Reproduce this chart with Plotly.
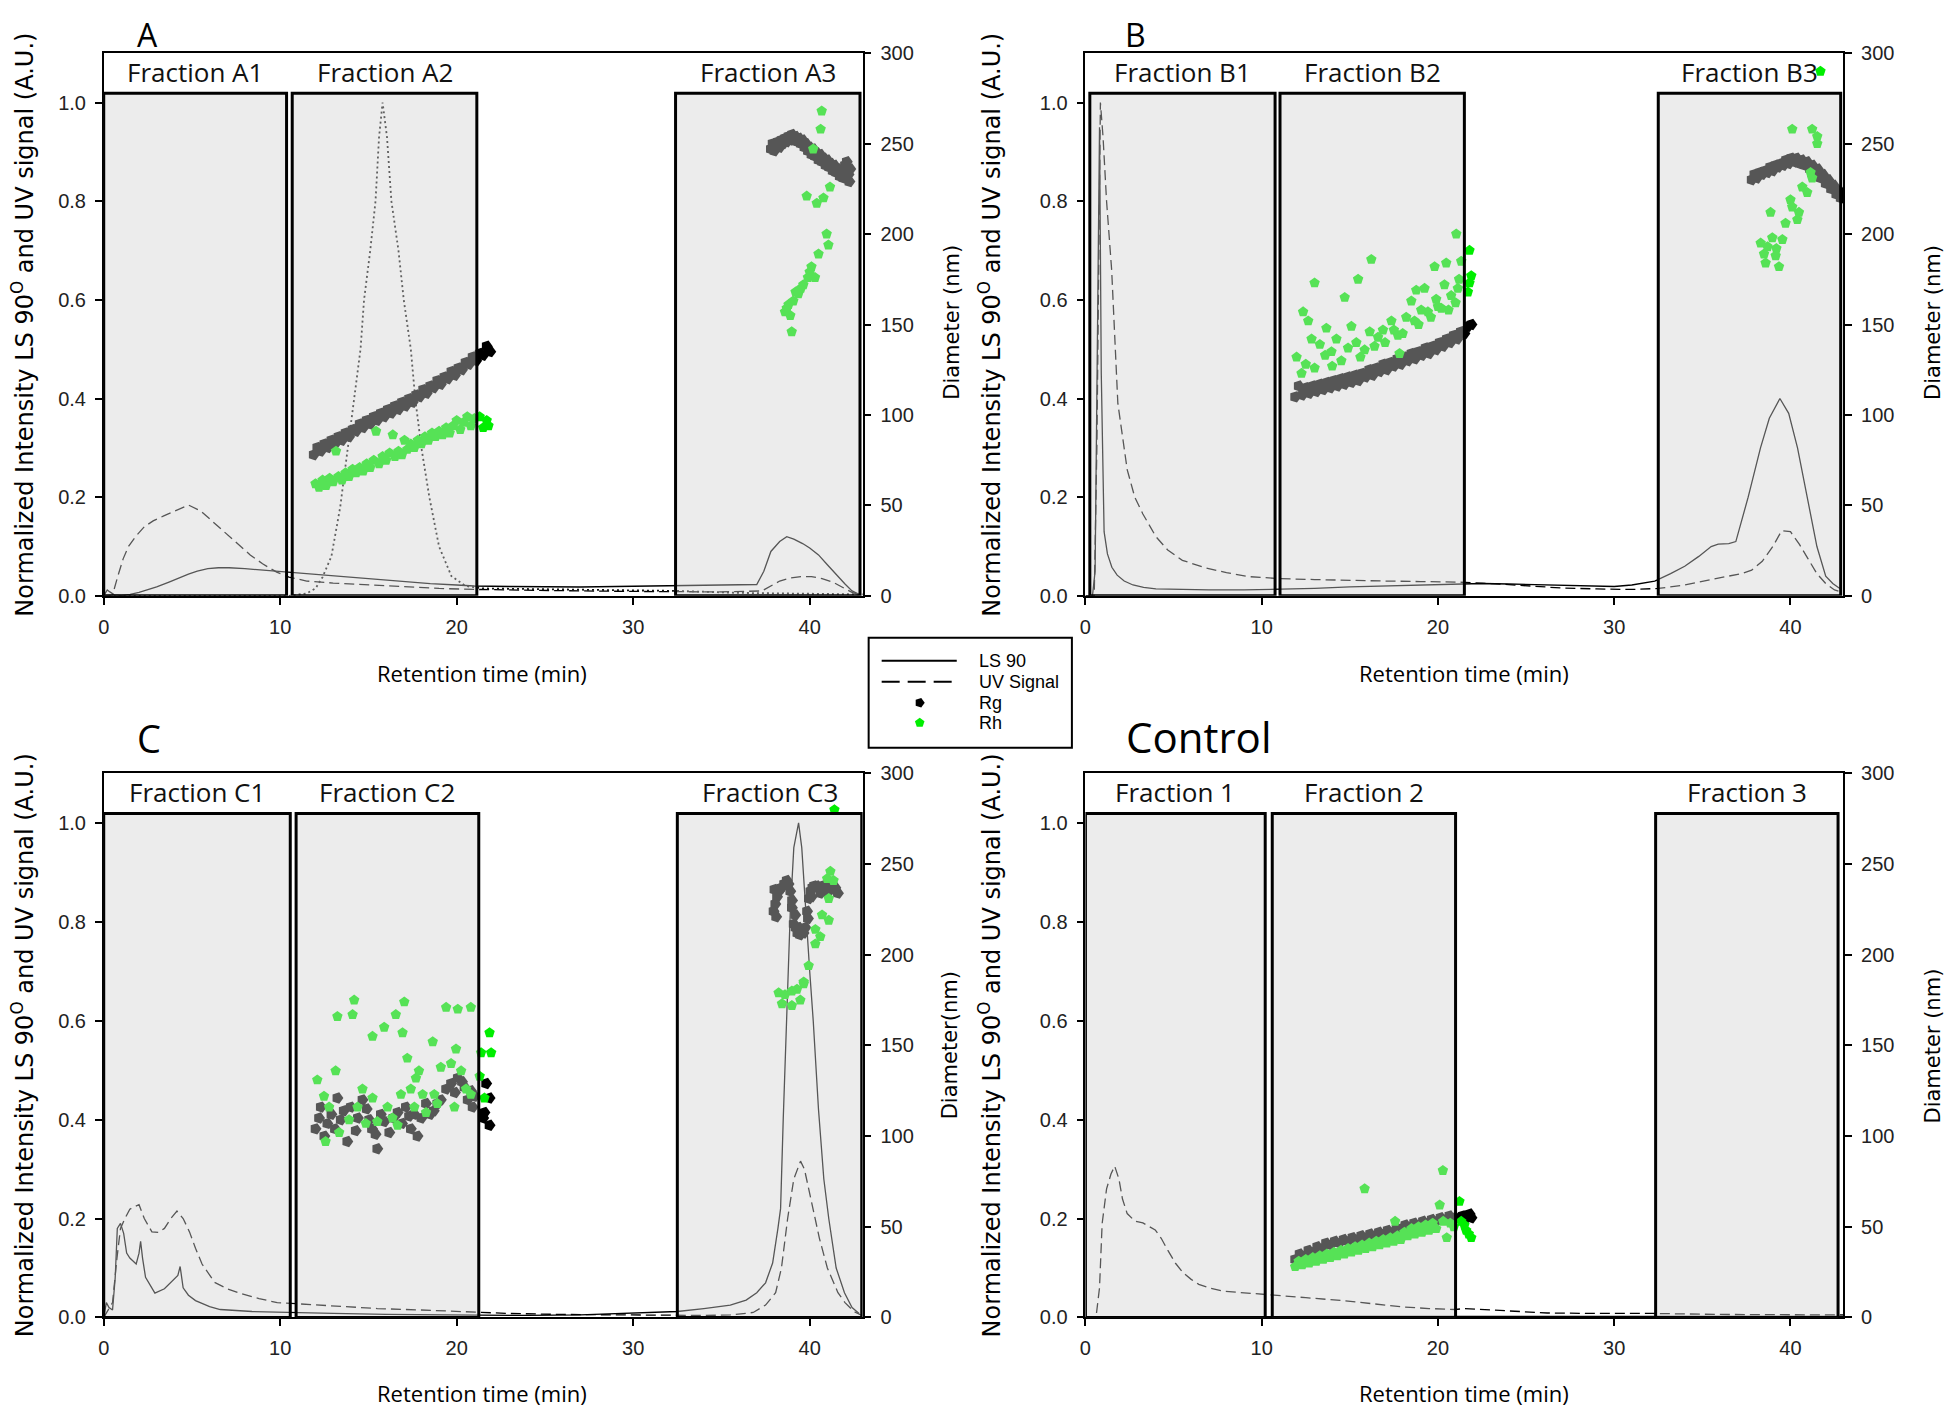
import math
import plotly.graph_objects as go

W, H = 1946, 1412

# ---------------- Panel A ----------------
A_ls_x = [0, 0.2, 0.35, 0.6, 1.0, 1.5, 2.0, 2.5, 3.0, 3.7, 4.3, 4.8, 5.3, 5.9, 6.5, 7.1, 8.0, 9.0, 10.0, 11.0,
          12.5, 14.0, 15.5, 17.0, 18.5, 20.0, 21.0, 23, 25, 27, 29, 31, 32.4, 34, 36, 37.0, 37.4, 37.8, 38.3, 38.7,
          39.1, 39.6, 40.0, 40.5, 41.0, 41.5, 42.0, 42.4, 42.8]
A_ls_y = [0.0, 0.012, 0.008, 0.002, 0.001, 0.003, 0.007, 0.012, 0.018, 0.028, 0.037, 0.044, 0.05, 0.055, 0.057,
          0.057, 0.055, 0.052, 0.05, 0.047, 0.042, 0.037, 0.033, 0.029, 0.025, 0.022, 0.02, 0.019, 0.018, 0.018,
          0.019, 0.02, 0.022, 0.022, 0.023, 0.023, 0.05, 0.09, 0.11, 0.12, 0.115, 0.106, 0.097, 0.083, 0.063,
          0.043, 0.024, 0.01, 0.003]
A_uv_x = [0, 0.5, 0.8, 1.1, 1.4, 1.8, 2.3, 2.8, 3.4, 4.0, 4.8, 5.5, 6.2, 6.9, 7.6, 8.3, 9.0, 9.8, 10.5, 11.5,
          13, 15, 17, 19, 21, 24, 27, 30, 32.5, 35, 37.3, 37.8, 38.3, 38.9, 39.5, 40.1, 40.7, 41.3, 41.9, 42.4, 42.8]
A_uv_y = [0, 0.002, 0.04, 0.075, 0.1, 0.12, 0.14, 0.152, 0.162, 0.172, 0.184, 0.172, 0.15, 0.128, 0.104, 0.083,
          0.065, 0.048, 0.038, 0.03, 0.026, 0.022, 0.018, 0.015, 0.013, 0.011, 0.01, 0.009, 0.008, 0.008, 0.01,
          0.02, 0.03, 0.036, 0.039, 0.039, 0.035, 0.028, 0.016, 0.007, 0.002]
A_dot_x = [0, 5, 10.5, 11.5, 12.0, 12.4, 12.9, 13.4, 13.8, 14.2, 14.55, 14.75, 15.1, 15.4, 15.6, 15.8, 16.05, 16.3,
           16.7, 17.0, 17.4, 17.65, 18.0, 18.45, 19.0, 19.7, 20.5, 21.5, 24, 27, 30, 32.5, 36, 40, 43]
A_dot_y = [0, 0, 0, 0.005, 0.015, 0.038, 0.08, 0.18, 0.29, 0.4, 0.5, 0.6, 0.7, 0.8, 0.93, 1.0, 0.93, 0.8, 0.7,
           0.6, 0.5, 0.4, 0.3, 0.2, 0.1, 0.04, 0.02, 0.015, 0.014, 0.013, 0.012, 0.01, 0.006, 0.004, 0.003]
A_rg_x = [11.9, 12.1, 12.3, 12.5, 12.7, 12.9, 13.1, 13.3, 13.5, 13.7, 13.9, 14.1, 14.3, 14.5, 14.7, 14.9, 15.1,
          15.3, 15.5, 15.7, 15.9, 16.1, 16.3, 16.5, 16.7, 16.9, 17.1, 17.3, 17.5, 17.7, 17.9, 18.1, 18.3, 18.5,
          18.7, 18.9, 19.1, 19.3, 19.5, 19.7, 19.9, 20.1, 20.3, 20.5, 20.7, 20.9, 21.1, 21.3, 21.5, 21.7, 21.9,
          37.8, 37.9, 38.0, 38.1, 38.2, 38.3, 38.4, 38.5, 38.6, 38.7, 38.8, 38.9, 39.0, 39.1, 39.2, 39.3, 39.4,
          39.5, 39.6, 39.7, 39.8, 39.9, 40.0, 40.1, 40.2, 40.3, 40.4, 40.5, 40.6, 40.7, 40.8, 40.9, 41.0, 41.1,
          41.2, 41.3, 41.4, 41.5, 41.6, 41.7, 41.8, 41.9, 42.0, 42.1, 42.2, 42.25, 42.3]
A_rg_y = [78, 82, 80, 84, 82, 86, 84, 88, 86, 90, 88, 92, 91, 95, 93, 97, 95, 99, 97, 101, 99, 103, 101, 105, 103,
          107, 105, 109, 107, 111, 110, 114, 112, 116, 115, 119, 117, 121, 120, 124, 122, 126, 125, 129, 128, 132,
          130, 134, 133, 138, 135,
          247, 250, 246, 249, 251, 248, 252, 250, 253, 251, 254, 252, 255, 252, 254, 251, 253, 250, 252, 248, 250,
          246, 248, 244, 247, 243, 245, 241, 244, 240, 242, 238, 241, 237, 239, 235, 238, 234, 236, 232, 235, 231,
          238, 240, 233, 229, 236]
A_rh_x = [12.0, 12.2, 12.4, 12.6, 12.8, 13.0, 13.16, 13.3, 13.5, 13.7, 13.9, 14.1, 14.3, 14.5, 14.7, 14.9, 15.1,
          15.3, 15.43, 15.6, 15.8, 16.0, 16.2, 16.38, 16.5, 16.7, 16.9, 17.04, 17.2, 17.4, 17.6, 17.8, 18.0, 18.2,
          18.4, 18.6, 18.8, 19.0, 19.2, 19.4, 19.6, 19.8, 20.0, 20.2, 20.4, 20.6, 20.8, 21.0, 21.3, 21.5, 21.7, 21.8,
          40.68, 40.62, 40.2, 41.15, 39.83, 40.4, 40.78, 40.96, 41.06, 40.5, 40.0, 40.3, 39.64, 39.36, 39.07, 38.6,
          38.9, 38.8, 38.98, 39.2, 39.5, 38.7, 39.9, 40.1]
A_rh_y = [62, 60, 64, 61, 65, 63, 80, 66, 64, 68, 66, 70, 68, 71, 69, 73, 71, 75, 91, 73, 77, 75, 79, 89, 77, 80,
          78, 86, 81, 84, 82, 86, 84, 88, 86, 90, 88, 91, 89, 93, 90, 94, 97, 92, 96, 99, 94, 98, 99, 93, 97, 94,
          268, 258, 247, 226, 221, 217, 220, 200, 194, 189, 179, 176, 172, 167, 163, 157, 155, 161, 146, 168, 170,
          159, 176, 182]

# ---------------- Panel B ----------------
B_ls_x = [0, 0.4, 0.55, 0.7, 0.8, 0.9, 1.06, 1.25, 1.5, 1.8, 2.2, 2.7, 3.3, 4.0, 5.0, 7.0, 9.0, 11.0, 13.0, 15.0,
          17.0, 19.0, 21.0, 22.5, 24, 26, 28, 30, 31, 32.3, 33.2, 34.0, 34.8, 35.5, 35.9, 36.5, 36.9, 37.2, 37.6,
          38.3, 38.8, 39.4, 39.9, 40.4, 40.9, 41.5, 42.0, 42.4, 42.8]
B_ls_y = [0, 0, 0.05, 0.6, 0.95, 0.45, 0.13, 0.085, 0.058, 0.042, 0.03, 0.022, 0.017, 0.014, 0.013, 0.012, 0.012,
          0.013, 0.015, 0.018, 0.02, 0.022, 0.024, 0.025, 0.024, 0.022, 0.02, 0.019, 0.022, 0.03, 0.045, 0.06,
          0.08, 0.1, 0.105, 0.106, 0.11, 0.15, 0.2, 0.3, 0.36, 0.4, 0.37, 0.3, 0.21, 0.1, 0.04, 0.025, 0.015]
B_uv_x = [0, 0.5, 0.65, 0.85, 1.0, 1.2, 1.49, 1.84, 2.37, 2.8, 3.26, 4.0, 4.67, 5.5, 6.8, 8.0, 9.27, 11.0, 13, 15,
          17, 19, 21, 23, 25, 27, 29, 31, 32.5, 34, 35.5, 36.5, 37.2, 37.8, 38.4, 39.0, 39.5, 40.0, 40.5, 41.0,
          41.5, 42.0, 42.5, 42.9]
B_uv_y = [0, 0, 0.3, 1.0, 0.93, 0.8, 0.66, 0.39, 0.256, 0.2, 0.166, 0.12, 0.093, 0.072, 0.057, 0.047, 0.039,
          0.035, 0.033, 0.031, 0.03, 0.029, 0.028, 0.025, 0.02, 0.016, 0.014, 0.013, 0.015, 0.022, 0.033, 0.04,
          0.045, 0.052, 0.07, 0.1, 0.132, 0.13, 0.105, 0.075, 0.045, 0.025, 0.012, 0.008]
B_rg_x = [11.9, 12.1, 12.3, 12.5, 12.7, 12.9, 13.1, 13.3, 13.5, 13.7, 13.9, 14.1, 14.3, 14.5, 14.7, 14.9, 15.1,
          15.3, 15.5, 15.7, 15.9, 16.1, 16.3, 16.5, 16.7, 16.9, 17.1, 17.3, 17.5, 17.7, 17.9, 18.1, 18.3, 18.5,
          18.7, 18.9, 19.1, 19.3, 19.5, 19.7, 19.9, 20.1, 20.3, 20.5, 20.7, 20.9, 21.1, 21.3, 21.5, 21.7, 21.9,
          37.8, 37.95, 38.1, 38.25, 38.4, 38.55, 38.7, 38.85, 39.0, 39.15, 39.3, 39.45, 39.6, 39.75, 39.9, 40.05,
          40.2, 40.35, 40.5, 40.65, 40.8, 40.95, 41.1, 41.25, 41.4, 41.55, 41.7, 41.85, 42.0, 42.15, 42.3, 42.45,
          42.6, 42.75, 42.85]
B_rg_y = [110, 116, 111, 115, 112, 116, 113, 117, 114, 118, 115, 119, 116, 120, 117, 121, 118, 122, 119, 123,
          121, 125, 122, 126, 124, 128, 125, 129, 127, 131, 128, 132, 130, 134, 131, 135, 133, 137, 134, 138,
          136, 140, 138, 142, 140, 144, 142, 146, 145, 149, 150,
          230, 233, 231, 234, 233, 235, 234, 237, 235, 238, 237, 239, 238, 241, 239, 242, 240, 242, 239, 241,
          238, 240, 236, 238, 234, 236, 231, 233, 228, 230, 225, 227, 222, 224, 220]
B_rh_x = [11.98, 12.35, 12.64, 13.0, 12.83, 12.26, 13.3, 13.67, 13.96, 14.24, 14.52, 14.71, 15.09, 15.47, 15.37,
          15.84, 16.22, 16.13, 16.6, 16.88, 17.36, 17.73, 17.82, 18.2, 18.49, 18.67, 18.77, 19.24, 19.05, 19.43,
          19.81, 19.9, 20.19, 20.47, 20.37, 20.75, 21.04, 21.32, 21.13, 13.0, 13.6, 14.9, 12.5, 14.0, 15.6, 16.4,
          17.0, 17.5, 18.0, 18.9, 19.6, 20.0, 20.6, 21.0, 21.2, 21.79, 21.89, 21.79, 21.7,
          40.1, 41.23, 41.52, 41.52, 41.14, 41.23, 40.67, 40.95, 40.0, 40.1, 40.48, 38.87, 39.72, 40.39, 38.31,
          38.97, 39.54, 38.5, 39.16, 38.59, 39.35, 38.7, 39.2, 41.7]
B_rh_y = [132, 157, 152, 173, 142, 123, 139, 148, 135, 142, 130, 165, 149, 175, 140, 136, 186, 146, 143, 147,
          152, 144, 134, 154, 163, 152, 169, 170, 158, 157, 182, 164, 159, 184, 172, 166, 200, 185, 170, 126,
          133, 137, 128, 127, 132, 138, 140, 147, 145, 150, 154, 160, 158, 162, 175, 191, 177, 173, 168,
          258, 258, 254, 250, 234, 231, 226, 223, 219, 215, 212, 212, 206, 208, 195, 198, 197, 189, 188, 184,
          182, 193, 192, 290]

# ---------------- Panel C ----------------
C_ls_x = [0, 0.15, 0.3, 0.5, 0.65, 0.77, 0.95, 1.13, 1.3, 1.48, 1.84, 2.0, 2.09, 2.2, 2.37, 2.9, 3.44, 3.97, 4.2,
          4.33, 4.5, 4.8, 5.2, 6.0, 6.6, 8.4, 10.2, 13, 16, 19, 21, 24, 27, 30, 32.5, 34, 35.5, 36.4, 37.0, 37.5,
          37.9, 38.2, 38.35, 38.5, 38.7, 38.9, 39.1, 39.37, 39.55, 39.8, 40.0, 40.2, 40.5, 40.8, 41.08, 41.5,
          41.97, 42.4, 42.8]
C_ls_y = [0, 0.03, 0.02, 0.015, 0.08, 0.18, 0.19, 0.17, 0.13, 0.12, 0.108, 0.13, 0.154, 0.12, 0.081, 0.049,
          0.058, 0.076, 0.085, 0.103, 0.06, 0.045, 0.034, 0.022, 0.016, 0.012, 0.01, 0.008, 0.006, 0.005, 0.004,
          0.004, 0.005, 0.008, 0.012, 0.018, 0.025, 0.035, 0.05, 0.07, 0.11, 0.18, 0.22, 0.4, 0.62, 0.82, 0.95,
          1.0, 0.95, 0.8, 0.7, 0.6, 0.42, 0.28, 0.2, 0.1, 0.05, 0.02, 0.008]
C_uv_x = [0, 0.25, 0.5, 0.75, 0.95, 1.2, 1.48, 1.8, 2.0, 2.3, 2.73, 3.1, 3.44, 3.8, 4.15, 4.5, 4.86, 5.2, 5.57,
          6.28, 7.0, 7.7, 8.8, 9.83, 11.2, 13, 15.5, 18, 20.5, 23, 26, 29, 32, 34, 35.5, 36.8, 37.5, 38.07, 38.4,
          38.75, 39.1, 39.48, 39.7, 40.0, 40.55, 41.0, 41.6, 42.0, 42.5, 42.9]
C_uv_y = [0, 0.015, 0.03, 0.12, 0.18, 0.2, 0.219, 0.225, 0.228, 0.2, 0.173, 0.172, 0.18, 0.2, 0.215, 0.2, 0.173,
          0.14, 0.108, 0.071, 0.058, 0.049, 0.038, 0.03, 0.027, 0.022, 0.018, 0.015, 0.012, 0.008, 0.006, 0.005,
          0.004, 0.004, 0.005, 0.01, 0.025, 0.05, 0.1, 0.2, 0.28, 0.316, 0.3, 0.25, 0.16, 0.1, 0.05, 0.03, 0.012,
          0.005]
C_rg_x = [12.0, 12.3, 12.67, 13.24, 13.43, 13.8, 14.0, 14.28, 14.66, 15.04, 15.4, 15.5, 15.7, 16.18, 16.65,
          17.12, 17.4, 17.78, 17.6, 18.26, 18.5, 18.9, 19.4, 19.68, 20.06, 20.44, 20.62, 20.9, 21.67, 21.86,
          21.57, 21.86, 21.5, 12.2, 12.5, 12.9, 13.1, 13.6, 14.4, 14.9, 15.2, 15.9, 16.4, 16.9, 17.3, 18.0, 18.7,
          19.1, 19.9, 20.3, 20.8, 21.0,
          37.95, 38.05, 38.15, 38.25, 38.4, 38.55, 38.7, 38.8, 38.9, 38.99, 39.09, 39.18, 39.3, 39.37, 39.45,
          39.55, 39.65, 39.75, 39.85, 39.95, 40.04, 40.15, 40.25, 40.4, 40.55, 40.7, 40.88, 41.05, 41.2, 41.35,
          41.45, 41.6, 38.0, 38.1, 39.0, 39.2, 39.9, 40.1, 41.0, 40.6]
C_rg_y = [104, 116, 107, 121, 109, 97, 116, 103, 120, 109, 101, 93, 112, 102, 113, 116, 104, 100, 112, 118, 112,
          118, 126, 129, 132, 127, 120, 116, 129, 121, 113, 106, 110, 110, 100, 112, 104, 114, 110, 115, 104,
          108, 110, 107, 111, 110, 114, 120, 124, 130, 125, 122,
          224, 228, 232, 235, 237, 239, 241, 239, 235, 226, 217, 222, 212, 215, 211, 214, 212, 215, 224, 231,
          235, 237, 238, 238, 237, 238, 238, 237, 238, 236, 237, 234, 236, 221, 230, 215, 220, 232, 234, 234]
C_rh_x = [13.24, 14.19, 14.1, 15.23, 15.89, 16.55, 17.03, 16.93, 17.2, 17.86, 17.69, 18.64, 19.1, 19.4, 20.06,
          20.8, 19.96, 19.68, 20.25, 13.14, 12.1, 12.48, 12.77, 12.57, 13.34, 13.9, 14.38, 14.66, 14.85, 15.23,
          15.5, 16.08, 16.36, 16.65, 16.84, 17.4, 17.6, 18.07, 18.26, 18.73, 18.9, 19.87, 20.53, 20.8, 21.3,
          21.86, 21.95, 21.38, 21.57,
          41.17, 40.99, 41.35, 41.08, 40.7, 41.08, 40.32, 40.6, 40.32, 39.94, 39.66, 39.28, 38.99, 38.6, 38.24,
          38.43, 38.99, 39.47, 39.66, 41.4]
C_rh_y = [166, 175, 167, 155, 160, 167, 174, 157, 143, 136, 132, 152, 138, 171, 170, 171, 148, 140, 136, 136,
          131, 122, 116, 97, 102, 109, 116, 126, 107, 121, 108, 116, 110, 106, 123, 126, 116, 123, 113, 123, 118,
          116, 126, 123, 133, 157, 146, 146, 121,
          246, 242, 241, 231, 222, 219, 214, 210, 206, 194, 184, 181, 180, 178, 179, 173, 172, 175, 185, 280]

# ---------------- Panel D (Control) ----------------
D_ls_x = [0, 5, 10, 15, 20, 25, 30, 35, 43]
D_ls_y = [0, 0.001, 0.002, 0.002, 0.002, 0.002, 0.002, 0.002, 0.002]
D_uv_x = [0, 0.6, 0.8, 0.95, 1.2, 1.45, 1.66, 1.9, 2.1, 2.37, 2.8, 3.26, 3.96, 4.3, 4.67, 5.1, 5.55, 6.0, 6.43,
          7.0, 7.85, 9.0, 9.98, 11, 12.5, 14.58, 16.5, 18.1, 19.5, 21.0, 21.5, 23, 24.5, 26.2, 29, 32.2, 36, 40, 43]
D_uv_y = [0, 0, 0.06, 0.19, 0.26, 0.29, 0.306, 0.28, 0.24, 0.21, 0.195, 0.191, 0.177, 0.16, 0.136, 0.11, 0.09,
          0.077, 0.067, 0.06, 0.053, 0.05, 0.048, 0.045, 0.04, 0.034, 0.027, 0.021, 0.018, 0.016, 0.018, 0.015,
          0.012, 0.009, 0.008, 0.008, 0.006, 0.005, 0.005]
D_rg_x = [11.9, 12.15, 12.4, 12.65, 12.9, 13.15, 13.4, 13.65, 13.9, 14.15, 14.4, 14.65, 14.9, 15.15, 15.4, 15.65,
          15.9, 16.15, 16.4, 16.65, 16.9, 17.15, 17.4, 17.65, 17.9, 18.15, 18.4, 18.65, 18.9, 19.15, 19.4, 19.65,
          19.9, 20.15, 20.4, 20.65, 20.9, 21.2, 21.4, 21.6, 21.8, 21.9]
D_rg_y = [32, 35, 34, 37, 36, 39, 38, 41, 40, 42, 41, 43, 42, 44, 43, 45, 44, 46, 45, 47, 46, 48, 47, 49, 49, 51,
          50, 52, 51, 53, 52, 54, 53, 55, 54, 56, 55, 55, 56, 55, 57, 55]
D_rh_x = [11.9, 12.1, 12.3, 12.5, 12.7, 12.9, 13.1, 13.3, 13.5, 13.7, 13.9, 14.1, 14.3, 14.5, 14.7, 14.9, 15.1,
          15.3, 15.5, 15.84, 15.7, 15.9, 16.1, 16.3, 16.5, 16.7, 16.9, 17.1, 17.3, 17.57, 17.5, 17.7, 17.9, 18.1,
          18.3, 18.5, 18.7, 18.9, 19.1, 19.3, 19.5, 19.7, 19.9, 20.1, 20.28, 20.3, 20.5, 20.7, 20.9, 21.22, 21.32,
          21.5, 21.6, 21.75, 21.89]
D_rh_y = [28, 31, 29, 32, 30, 33, 31, 34, 32, 35, 33, 36, 34, 37, 35, 38, 36, 39, 37, 71, 40, 38, 41, 39, 42, 40,
          43, 41, 44, 53, 42, 45, 43, 47, 45, 49, 46, 50, 47, 51, 48, 52, 49, 62, 81, 53, 44, 52, 50, 64, 53, 51,
          48, 46, 44]

# Fraction windows (min) and labels
A_boxes = [(0, 10.36), (10.68, 21.14), (32.4, 42.85)]
B_boxes = [(0.25, 10.76), (11.04, 21.5), (32.5, 42.85)]
C_boxes = [(0, 10.57), (10.9, 21.25), (32.5, 42.95)]
D_boxes = [(0, 10.2), (10.6, 21.0), (32.35, 42.7)]
A_labels = ["Fraction A1", "Fraction A2", "Fraction A3"]
B_labels = ["Fraction B1", "Fraction B2", "Fraction B3"]
C_labels = ["Fraction C1", "Fraction C2", "Fraction C3"]
D_labels = ["Fraction 1", "Fraction 2", "Fraction 3"]

x_ticks = [0, 10, 20, 30, 40]
left_ticks = [0.0, 0.2, 0.4, 0.6, 0.8, 1.0]
right_ticks = [0, 50, 100, 150, 200, 250, 300]

# ---------------- styling ----------------
F_TICK = "Liberation Sans, Arial, sans-serif"
F_AXT = "DejaVu Sans, Verdana, sans-serif"
F_LAB = "Open Sans, Calibri, sans-serif"
RG_COLOR = "black"
RH_COLOR = "rgb(0,238,0)"
OVERLAY = "rgba(208,208,208,0.41)"
MS_RG = 12
MS_RH = 11

left_title = "Normalized Intensity LS 90<sup>O</sup> and UV signal (A.U.)"

# title_pos: (x target px, y, anchor, size, top_of_figure)
panels = [
    dict(ls=(A_ls_x, A_ls_y), uv=(A_uv_x, A_uv_y), dot=(A_dot_x, A_dot_y), rg=(A_rg_x, A_rg_y),
         rh=(A_rh_x, A_rh_y), boxes=A_boxes, labels=A_labels, px=(103, 861), py=(52, 595),
         title="A", title_pos=(147, 0, "center", 32, True), ltitle=(22, 324), rtitle=("Diameter (nm)", 950, 321),
         xtitle=(481, 672)),
    dict(ls=(B_ls_x, B_ls_y), uv=(B_uv_x, B_uv_y), dot=None, rg=(B_rg_x, B_rg_y),
         rh=(B_rh_x, B_rh_y), boxes=B_boxes, labels=B_labels, px=(1083.5, 1840.5), py=(52, 595),
         title="B", title_pos=(1134, 0, "center", 32, True), ltitle=(988, 324),
         rtitle=("Diameter (nm)", 1930, 321), xtitle=(1462, 672)),
    dict(ls=(C_ls_x, C_ls_y), uv=(C_uv_x, C_uv_y), dot=None, rg=(C_rg_x, C_rg_y),
         rh=(C_rh_x, C_rh_y), boxes=C_boxes, labels=C_labels, px=(103, 861), py=(772.7, 1317),
         title="C", title_pos=(148, 737, "center", 38, False), ltitle=(22, 1045),
         rtitle=("Diameter(nm)", 948, 1045), xtitle=(481, 1393)),
    dict(ls=(D_ls_x, D_ls_y), uv=(D_uv_x, D_uv_y), dot=None, rg=(D_rg_x, D_rg_y),
         rh=(D_rh_x, D_rh_y), boxes=D_boxes, labels=D_labels, px=(1083.5, 1840.5), py=(772.7, 1317),
         title="Control", title_pos=(1122, 736, "left", 42, False), ltitle=(988, 1045),
         rtitle=("Diameter (nm)", 1930, 1045), xtitle=(1462, 1393)),
]

# target screen pixel -> paper fraction (compensates the small offset/scale seen in the screenshot)
OX, SX = 5.4, 0.9957
OY, SY = 9.8, 0.985


def X(px):
    return ((px - OX) / SX) / W


def Y(py):
    return 1 - ((py - OY) / SY) / H


fig = go.Figure()
layout = dict(width=W, height=H, margin=dict(l=0, r=0, t=0, b=0, pad=0), paper_bgcolor="white",
              plot_bgcolor="white", showlegend=False)
shapes = []
annotations = []

for i, p in enumerate(panels):
    n = i + 1
    xa = "xaxis" if n == 1 else f"xaxis{n}"
    ya = "yaxis" if n == 1 else f"yaxis{n}"
    ya2 = f"yaxis{n + 4}"
    xr = "x" if n == 1 else f"x{n}"
    yr = "y" if n == 1 else f"y{n}"
    yr2 = f"y{n + 4}"

    tickfont = dict(family=F_TICK, size=20, color="#222")
    layout[xa] = dict(domain=[X(p["px"][0]), X(p["px"][1])], anchor=yr, range=[0, 43], tickvals=x_ticks,
                      ticks="outside", ticklen=7, tickwidth=1.5, tickcolor="black", showline=True,
                      linecolor="black", linewidth=1.5, mirror=True, showgrid=False, zeroline=False,
                      tickfont=tickfont, ticklabelstandoff=5)
    layout[ya] = dict(domain=[Y(p["py"][1]), Y(p["py"][0])], anchor=xr, range=[0, 1.1], tickvals=left_ticks,
                      tickformat=".1f", ticks="outside", ticklen=7, tickwidth=1.5, tickcolor="black",
                      showline=True, linecolor="black", linewidth=1.5, showgrid=False, zeroline=False,
                      tickfont=tickfont, ticklabelstandoff=5)
    layout[ya2] = dict(overlaying=yr, anchor=xr, side="right", range=[0, 300], tickvals=right_ticks,
                       ticks="outside", ticklen=7, tickwidth=1.5, tickcolor="black", showline=True,
                       linecolor="black", linewidth=1.5, showgrid=False, zeroline=False, tickfont=tickfont,
                       ticklabelstandoff=5)

    fig.add_trace(go.Scatter(x=p["ls"][0], y=p["ls"][1], mode="lines", name="LS 90",
                             line=dict(color="black", width=1.3), xaxis=xr, yaxis=yr, hoverinfo="skip"))
    fig.add_trace(go.Scatter(x=p["uv"][0], y=p["uv"][1], mode="lines", name="UV Signal",
                             line=dict(color="black", width=1.3, dash="10px,5px"), xaxis=xr, yaxis=yr,
                             hoverinfo="skip"))
    if p["dot"] is not None:
        fig.add_trace(go.Scatter(x=p["dot"][0], y=p["dot"][1], mode="lines", name="LS 90 (dotted)",
                                 line=dict(color="#111", width=1.8, dash="2px,3px"), xaxis=xr, yaxis=yr,
                                 hoverinfo="skip"))
    fig.add_trace(go.Scatter(x=p["rg"][0], y=p["rg"][1], mode="markers", name="Rg",
                             marker=dict(symbol="pentagon", angle=90, size=MS_RG, color=RG_COLOR,
                                         line=dict(width=0)), xaxis=xr, yaxis=yr2))
    fig.add_trace(go.Scatter(x=p["rh"][0], y=p["rh"][1], mode="markers", name="Rh",
                             marker=dict(symbol="pentagon", size=MS_RH, color=RH_COLOR, line=dict(width=0)),
                             xaxis=xr, yaxis=yr2))

    for (a, b), lab in zip(p["boxes"], p["labels"]):
        shapes.append(dict(type="rect", xref=xr, yref=yr, x0=a, x1=b, y0=0, y1=1.019, fillcolor=OVERLAY,
                           line=dict(color="black", width=3), layer="above"))
        annotations.append(dict(x=(a + b) / 2, y=1.062, xref=xr, yref=yr, text=lab, showarrow=False,
                                font=dict(family=F_LAB, size=26, color="#111"), xanchor="center",
                                yanchor="middle"))

    tx, ty, tanchor, tsize, at_top = p["title_pos"]
    if at_top:
        annotations.append(dict(x=X(tx), y=1.0, xref="paper", yref="paper", text=p["title"], showarrow=False,
                                font=dict(family=F_LAB, size=tsize, color="black"), xanchor=tanchor,
                                yanchor="top"))
    else:
        annotations.append(dict(x=X(tx), y=Y(ty), xref="paper", yref="paper", text=p["title"], showarrow=False,
                                font=dict(family=F_LAB, size=tsize, color="black"), xanchor=tanchor,
                                yanchor="middle"))
    lx, ly = p["ltitle"]
    annotations.append(dict(x=X(lx), y=Y(ly), xref="paper", yref="paper", text=left_title, showarrow=False,
                            textangle=-90, font=dict(family=F_AXT, size=24, color="black"),
                            xanchor="center", yanchor="middle"))
    rt, rx, ry = p["rtitle"]
    annotations.append(dict(x=X(rx), y=Y(ry), xref="paper", yref="paper", text=rt, showarrow=False,
                            textangle=-90, font=dict(family=F_AXT, size=21, color="black"),
                            xanchor="center", yanchor="middle"))
    xx, xy = p["xtitle"]
    annotations.append(dict(x=X(xx), y=Y(xy), xref="paper", yref="paper", text="Retention time (min)",
                            showarrow=False, font=dict(family=F_LAB, size=22, color="black"),
                            xanchor="center", yanchor="middle"))

# ---------------- legend (drawn as layout decoration) ----------------
shapes.append(dict(type="rect", xref="paper", yref="paper", x0=X(867), x1=X(1070), y0=Y(747), y1=Y(637),
                   fillcolor="white", line=dict(color="black", width=2), layer="above"))
shapes.append(dict(type="line", xref="paper", yref="paper", x0=X(880), x1=X(955), y0=Y(660), y1=Y(660),
                   line=dict(color="black", width=2), layer="above"))
shapes.append(dict(type="line", xref="paper", yref="paper", x0=X(880), x1=X(955), y0=Y(681), y1=Y(681),
                   line=dict(color="black", width=2, dash="18px,8px"), layer="above"))


def pentagon(cx, cy, r, rot):
    pts = []
    for k in range(5):
        a = math.radians(rot - 90 + 72 * k)
        pts.append(f"{X(cx + r * math.cos(a)):.5f},{Y(cy + r * math.sin(a)):.5f}")
    return "M " + " L ".join(pts) + " Z"


shapes.append(dict(type="path", xref="paper", yref="paper", path=pentagon(918, 702, 5, 90),
                   fillcolor=RG_COLOR, line=dict(width=0), layer="above"))
shapes.append(dict(type="path", xref="paper", yref="paper", path=pentagon(918, 722, 5, 0),
                   fillcolor=RH_COLOR, line=dict(width=0), layer="above"))
for txt, ty in [("LS 90", 660), ("UV Signal", 681), ("Rg", 702), ("Rh", 722)]:
    annotations.append(dict(x=X(975), y=Y(ty), xref="paper", yref="paper", text=txt, showarrow=False,
                            font=dict(family=F_TICK, size=18, color="black"), xanchor="left",
                            yanchor="middle"))

layout["shapes"] = shapes
layout["annotations"] = annotations
fig.update_layout(**layout)

# remove the default page margin so the 1946x1412 figure fills the window; hide the mode bar
PAGE_FIX = ("document.body.style.margin='0';document.body.style.padding='0';"
            "document.documentElement.style.overflow='hidden';")
fig.write_html("out.html", post_script=PAGE_FIX, config={"displayModeBar": False})
